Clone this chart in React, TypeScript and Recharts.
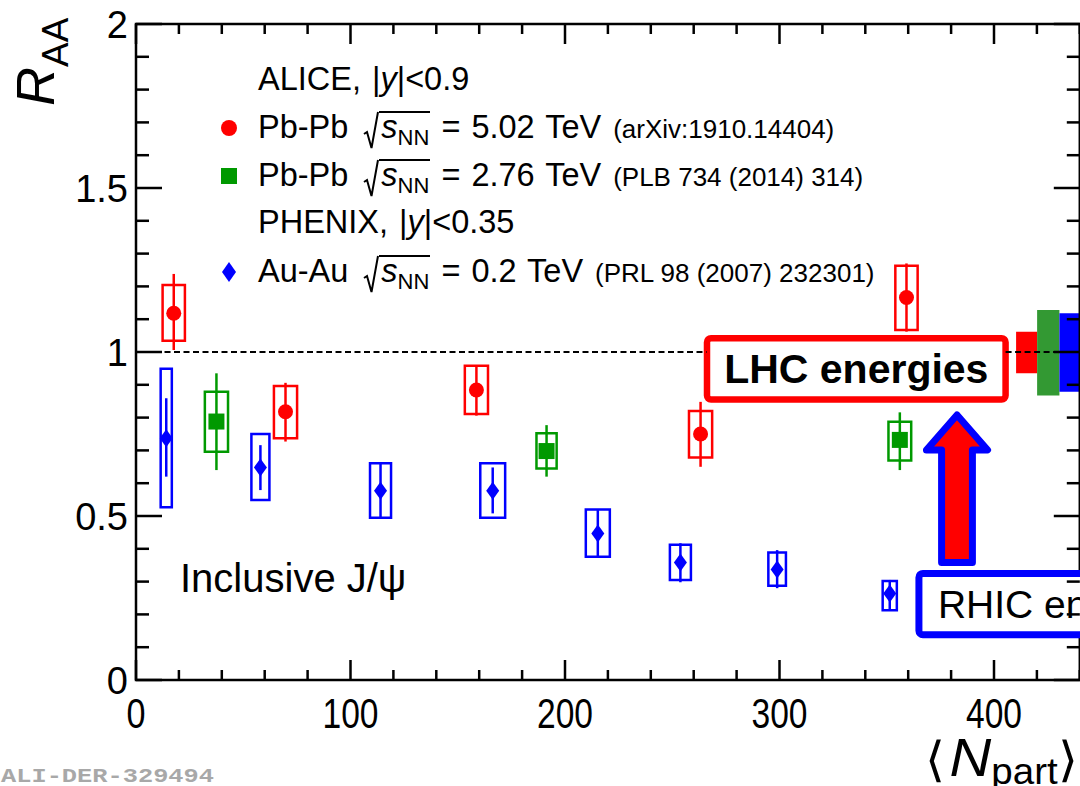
import React from 'react';
import { ScatterChart, Scatter, XAxis, YAxis, ErrorBar, ReferenceArea, ReferenceLine } from 'recharts';

const FONT = '"Liberation Sans", Arial, Helvetica, sans-serif';
const PLOT = { left: 136, top: 24, right: 1079.8, bottom: 680 };

const X_TICKS = [0, 20, 40, 60, 80, 100, 120, 140, 160, 180, 200, 220, 240, 260, 280, 300, 320, 340, 360, 380, 400, 420, 440];
const Y_TICKS = [0, 0.1, 0.2, 0.3, 0.4, 0.5, 0.6, 0.7, 0.8, 0.9, 1, 1.1, 1.2, 1.3, 1.4, 1.5, 1.6, 1.7, 1.8, 1.9, 2];

// ALICE Pb-Pb 5.02 TeV
const NPART_502 = [17.6, 69.7, 158.7, 263.2, 359.2];
const RAA_502 = [1.118, 0.818, 0.884, 0.75, 1.166];
const STAT_LO_502 = [1.006, 0.727, 0.806, 0.65, 1.062];
const STAT_HI_502 = [1.238, 0.906, 0.96, 0.848, 1.27];
const SYS_LO_502 = [1.034, 0.737, 0.811, 0.678, 1.067];
const SYS_HI_502 = [1.204, 0.896, 0.958, 0.82, 1.263];
const SYS_DX_502 = [5.2, 5.4, 5.4, 5.4, 5.2];

// ALICE Pb-Pb 2.76 TeV
const NPART_276 = [37.5, 191.4, 356.1];
const RAA_276 = [0.788, 0.698, 0.732];
const STAT_LO_276 = [0.64, 0.62, 0.64];
const STAT_HI_276 = [0.935, 0.777, 0.816];
const SYS_LO_276 = [0.696, 0.645, 0.669];
const SYS_HI_276 = [0.879, 0.752, 0.787];
const SYS_DX_276 = [5.4, 4.7, 5.3];

// PHENIX Au-Au 0.2 TeV
const NPART_AUAU = [14.1, 58.0, 114.0, 166.3, 215.3, 253.8, 298.9, 351.4];
const RAA_AUAU = [0.737, 0.648, 0.577, 0.577, 0.447, 0.358, 0.337, 0.264];
const STAT_LO_AUAU = [0.62, 0.579, 0.497, 0.508, 0.378, 0.298, 0.28, 0.215];
const STAT_HI_AUAU = [0.859, 0.716, 0.659, 0.648, 0.518, 0.417, 0.396, 0.305];
const SYS_LO_AUAU = [0.527, 0.549, 0.495, 0.495, 0.376, 0.305, 0.287, 0.213];
const SYS_HI_AUAU = [0.949, 0.75, 0.661, 0.661, 0.52, 0.412, 0.389, 0.302];
const SYS_DX_AUAU = [2.6, 4.2, 4.9, 5.8, 5.6, 4.9, 4.1, 3.3];

// global (correlated) uncertainties drawn at R_AA = 1
const GLOBAL_X1 = [410.3, 420.1, 430.5];
const GLOBAL_X2 = [420.1, 430.5, 441];
const GLOBAL_LO = [0.935, 0.867, 0.879];
const GLOBAL_HI = [1.062, 1.128, 1.118];
const GLOBAL_COLORS = ['#ff0000', '#339933', '#0000ff'];

const RED = '#ff0000';
const GREEN = '#009900';
const BLUE = '#0000ff';

type Pt = { x: number; y: number; err: [number, number]; sysLo: number; sysHi: number; dx: number };

function build(xs: number[], ys: number[], sLo: number[], sHi: number[], yLo: number[], yHi: number[], dx: number[]): Pt[] {
  return xs.map((x, i) => ({
    x,
    y: ys[i],
    err: [ys[i] - sLo[i], sHi[i] - ys[i]],
    sysLo: yLo[i],
    sysHi: yHi[i],
    dx: dx[i],
  }));
}

const data502 = build(NPART_502, RAA_502, STAT_LO_502, STAT_HI_502, SYS_LO_502, SYS_HI_502, SYS_DX_502);
const data276 = build(NPART_276, RAA_276, STAT_LO_276, STAT_HI_276, SYS_LO_276, SYS_HI_276, SYS_DX_276);
const dataAuAu = build(NPART_AUAU, RAA_AUAU, STAT_LO_AUAU, STAT_HI_AUAU, SYS_LO_AUAU, SYS_HI_AUAU, SYS_DX_AUAU);

function XTick(props: any) {
  const { x, payload } = props;
  const v = payload.value;
  const major = v % 100 === 0;
  const len = major ? 20 : 10;
  return (
    <g>
      <line x1={x} x2={x} y1={PLOT.bottom} y2={PLOT.bottom - len} stroke="#000" strokeWidth={2.5} />
      <line x1={x} x2={x} y1={PLOT.top} y2={PLOT.top + len} stroke="#000" strokeWidth={2.5} />
      {major && v <= 400 && (
        <text
          x={x}
          y={728}
          textAnchor="middle"
          fontSize={42}
          fontFamily={FONT}
          fill="#000"
          textLength={String(v).length === 1 ? 19 : 56}
          lengthAdjust="spacingAndGlyphs"
        >
          {v}
        </text>
      )}
    </g>
  );
}

function YTick(props: any) {
  const { y, payload } = props;
  const v = payload.value;
  const major = Math.abs(v * 2 - Math.round(v * 2)) < 1e-6;
  const len = major ? 26 : 13;
  return (
    <g>
      <line x1={PLOT.left} x2={PLOT.left + len} y1={y} y2={y} stroke="#000" strokeWidth={2.5} />
      <line x1={PLOT.right} x2={PLOT.right - len} y1={y} y2={y} stroke="#000" strokeWidth={2.5} />
      {major && (
        <text x={128} y={y + 13.6} textAnchor="end" fontSize={38} fontFamily={FONT} fill="#000">
          {String(v)}
        </text>
      )}
    </g>
  );
}

const circle = (p: any) => <circle cx={p.cx} cy={p.cy} r={7.5} fill={RED} />;
const square = (p: any) => <rect x={p.cx - 8} y={p.cy - 8} width={16} height={16} fill={GREEN} />;
const diamond = (p: any) => (
  <polygon points={`${p.cx},${p.cy - 9} ${p.cx + 6.5},${p.cy} ${p.cx},${p.cy + 9} ${p.cx - 6.5},${p.cy}`} fill={BLUE} />
);

function LhcBox(props: any) {
  const { x, y, width, height } = props;
  return (
    <g>
      <rect x={x} y={y} width={width} height={height} rx={4} fill="#fff" stroke={RED} strokeWidth={6.5} />
      <text
        x={x + width / 2}
        y={y + height / 2 + 14.5}
        textAnchor="middle"
        fontSize={41}
        fontWeight="bold"
        fontFamily={FONT}
        fill="#000"
      >
        LHC energies
      </text>
    </g>
  );
}

function RhicBox(props: any) {
  const { x, y, width, height } = props;
  return (
    <g>
      <rect x={x} y={y} width={width} height={height} rx={4} fill="#fff" stroke={BLUE} strokeWidth={7} />
      <text x={x + 19} y={y + height / 2 + 14} fontSize={39} fontFamily={FONT} fill="#000">
        RHIC energies
      </text>
    </g>
  );
}

function ArrowShape(props: any) {
  const { x, y, width, height } = props;
  const cx = x + width / 2;
  const headH = height * 0.237;
  const half = width * 0.252;
  const pts = [
    [cx, y],
    [x + width, y + headH],
    [cx + half, y + headH],
    [cx + half, y + height],
    [cx - half, y + height],
    [cx - half, y + headH],
    [x, y + headH],
  ]
    .map((p) => p.join(','))
    .join(' ');
  return <polygon points={pts} fill={RED} stroke={BLUE} strokeWidth={7} strokeLinejoin="round" />;
}

function Root({ children }: { children: React.ReactNode }) {
  return (
    <span
      style={{
        position: 'relative',
        display: 'inline-block',
        marginLeft: 20,
        borderTop: '2px solid #000',
        lineHeight: '28px',
        paddingRight: 1,
      }}
    >
      <svg width={14} height={38} style={{ position: 'absolute', left: -16, top: -2, overflow: 'visible' }}>
        <polyline points="1,23 4,21 8.5,37 15,1" fill="none" stroke="#000" strokeWidth={2} />
      </svg>
      {children}
    </span>
  );
}

function Sqs() {
  return (
    <Root>
      <i style={{ marginLeft: 2 }}>s</i>
      <span style={{ fontSize: 22, position: 'relative', top: 7 }}>NN</span>
    </Root>
  );
}

const rowStyle = (baseline: number): React.CSSProperties => ({
  position: 'absolute',
  left: 258,
  top: baseline - 27,
  fontSize: 32.5,
  lineHeight: '31px',
  wordSpacing: 2,
  whiteSpace: 'nowrap',
  fontFamily: FONT,
  color: '#000',
});

const refStyle: React.CSSProperties = { fontSize: 26, marginLeft: 12, wordSpacing: 0 };

export default function App() {
  return (
    <div style={{ position: 'absolute', left: 0, top: 0, width: 1080, height: 786, background: '#fff', overflow: 'hidden' }}>
      <ScatterChart width={1080} height={786} margin={{ top: 24, right: 0.2, bottom: 76, left: 96 }} style={{ fontFamily: FONT }}>
        <XAxis
          type="number"
          dataKey="x"
          domain={[0, 440]}
          ticks={X_TICKS}
          interval={0}
          height={30}
          axisLine={false}
          tickLine={false}
          tick={(p: any) => <XTick {...p} />}
          allowDataOverflow
        />
        <YAxis
          type="number"
          dataKey="y"
          domain={[0, 2]}
          ticks={Y_TICKS}
          interval={0}
          width={40}
          axisLine={false}
          tickLine={false}
          tick={(p: any) => <YTick {...p} />}
          allowDataOverflow
        />

        {GLOBAL_LO.map((lo, i) => (
          <ReferenceArea
            key={`g${i}`}
            x1={GLOBAL_X1[i]}
            x2={GLOBAL_X2[i]}
            y1={lo}
            y2={GLOBAL_HI[i]}
            fill={GLOBAL_COLORS[i]}
            fillOpacity={1}
            stroke="none"
            ifOverflow="visible"
          />
        ))}

        <ReferenceLine segment={[{ x: 0, y: 1 }, { x: 266, y: 1 }]} stroke="#000" strokeWidth={2.2} strokeDasharray="6 3.5" ifOverflow="visible" />
        <ReferenceLine segment={[{ x: 405.4, y: 1 }, { x: 440, y: 1 }]} stroke="#000" strokeWidth={2.2} strokeDasharray="6 3.5" ifOverflow="visible" />

        {data502.map((p, i) => (
          <ReferenceArea key={`r${i}`} x1={p.x - p.dx} x2={p.x + p.dx} y1={p.sysLo} y2={p.sysHi} fill="none" stroke={RED} strokeWidth={2.5} ifOverflow="visible" />
        ))}
        {data276.map((p, i) => (
          <ReferenceArea key={`gr${i}`} x1={p.x - p.dx} x2={p.x + p.dx} y1={p.sysLo} y2={p.sysHi} fill="none" stroke={GREEN} strokeWidth={2.5} ifOverflow="visible" />
        ))}
        {dataAuAu.map((p, i) => (
          <ReferenceArea key={`b${i}`} x1={p.x - p.dx} x2={p.x + p.dx} y1={p.sysLo} y2={p.sysHi} fill="none" stroke={BLUE} strokeWidth={2.5} ifOverflow="visible" />
        ))}

        <Scatter data={data502} shape={circle} isAnimationActive={false}>
          <ErrorBar dataKey="err" direction="y" width={0} stroke={RED} strokeWidth={2.5} />
        </Scatter>
        <Scatter data={data276} shape={square} isAnimationActive={false}>
          <ErrorBar dataKey="err" direction="y" width={0} stroke={GREEN} strokeWidth={2.5} />
        </Scatter>
        <Scatter data={dataAuAu} shape={diamond} isAnimationActive={false}>
          <ErrorBar dataKey="err" direction="y" width={0} stroke={BLUE} strokeWidth={2.5} />
        </Scatter>

        <ReferenceArea x1={0} x2={440} y1={0} y2={2} fill="none" stroke="#000" strokeWidth={2.5} ifOverflow="visible" />

        <ReferenceArea x1={266.2} x2={405.4} y1={0.855} y2={1.042} shape={<LhcBox />} ifOverflow="visible" />
        <ReferenceArea x1={368.5} x2={397.0} y1={0.358} y2={0.808} shape={<ArrowShape />} ifOverflow="visible" />
        <ReferenceArea x1={365.0} x2={520} y1={0.138} y2={0.325} shape={<RhicBox />} ifOverflow="visible" />
      </ScatterChart>

      <svg width={1080} height={786} style={{ position: 'absolute', left: 0, top: 0, pointerEvents: 'none' }}>
        <text transform="translate(54,106) rotate(-90)" fontFamily={FONT} fill="#000">
          <tspan fontSize={54} fontStyle="italic">R</tspan>
          <tspan fontSize={37} dy={14}>AA</tspan>
        </text>
        <text x={1078} y={776} textAnchor="end" fontFamily={FONT} fill="#000" textLength={153} lengthAdjust="spacingAndGlyphs">
          <tspan fontSize={48}>⟨</tspan>
          <tspan fontSize={54} fontStyle="italic" dx={4}>N</tspan>
          <tspan fontSize={36} dy={8}>part</tspan>
          <tspan fontSize={48} dy={-8}>⟩</tspan>
        </text>
        <text x={180} y={592} fontSize={40} fontFamily={FONT} fill="#000">
          Inclusive J/ψ
        </text>
        <text
          x={1}
          y={782}
          fontSize={20}
          fontWeight="bold"
          fontFamily='"Liberation Mono", "DejaVu Sans Mono", monospace'
          fill="#a8a8a8"
          textLength={213}
          lengthAdjust="spacingAndGlyphs"
        >
          ALI-DER-329494
        </text>
        <circle cx={229} cy={128} r={8} fill={RED} />
        <rect x={221} y={168} width={16} height={16} fill={GREEN} />
        <polygon points="229,262 236,272 229,282 222,272" fill={BLUE} />
      </svg>

      <div style={rowStyle(91)}>
        ALICE, |<i>y</i>|&lt;0.9
      </div>
      <div style={rowStyle(138)}>
        Pb-Pb <Sqs /> = 5.02 TeV<span style={refStyle}>(arXiv:1910.14404)</span>
      </div>
      <div style={rowStyle(186)}>
        Pb-Pb <Sqs /> = 2.76 TeV<span style={refStyle}>(PLB 734 (2014) 314)</span>
      </div>
      <div style={rowStyle(234)}>
        PHENIX, |<i>y</i>|&lt;0.35
      </div>
      <div style={rowStyle(282)}>
        Au-Au <Sqs /> = 0.2 TeV<span style={refStyle}>(PRL 98 (2007) 232301)</span>
      </div>
    </div>
  );
}
